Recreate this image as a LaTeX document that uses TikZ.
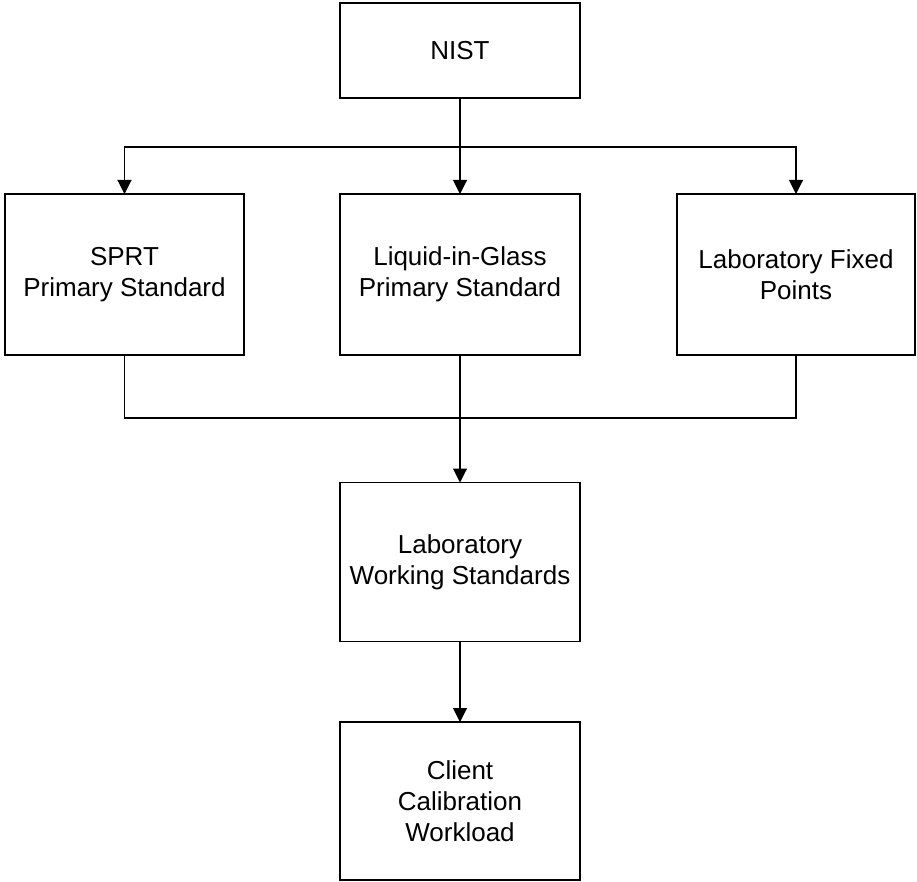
\documentclass[tikz,border=0pt]{standalone}
\usepackage{fontspec}
\setmainfont{Liberation Sans}
\usetikzlibrary{arrows.meta}
\begin{document}
\begin{tikzpicture}[x=1pt,y=-1pt,
  box/.style={draw=black,line width=1.1pt,rectangle,inner sep=0pt,outer sep=0pt,
    align=center,font=\fontsize{26}{31}\selectfont},
  conn/.style={draw=black,line width=1.1pt},
  arr/.style={conn,-{Triangle[width=14pt,length=14pt]}}]
\useasboundingbox (0,0) rectangle (917,882);
\node[box,minimum width=240pt,minimum height=95pt] (nist) at (460,50.5) {NIST};
\node[box,minimum width=239pt,minimum height=161pt] (sprt) at (124.5,274.5) {SPRT\\Primary Standard};
\node[box,minimum width=240pt,minimum height=161pt] (lig) at (460,274.5) {Liquid-in-Glass\\Primary Standard};
\node[box,minimum width=238pt,minimum height=161pt] (fix) at (796,274.5) {Laboratory Fixed\\Points};
\node[box,minimum width=240pt,minimum height=159pt] (work) at (460,562) {Laboratory\\Working Standards};
\node[box,minimum width=240pt,minimum height=158pt] (client) at (460,801) {Client\\Calibration\\Workload};
\coordinate (top) at (460,147);
\coordinate (join) at (460,418);
\draw[conn] (nist.south) -- (top);
\draw[arr] (top) -- (lig.north);
\draw[arr] (top) -| (sprt.north);
\draw[arr] (top) -| (fix.north);
\draw[conn] (sprt.south) |- (join);
\draw[conn] (fix.south) |- (join);
\draw[arr] (lig.south) -- (work.north);
\draw[arr] (work.south) -- (client.north);
\end{tikzpicture}
\end{document}
